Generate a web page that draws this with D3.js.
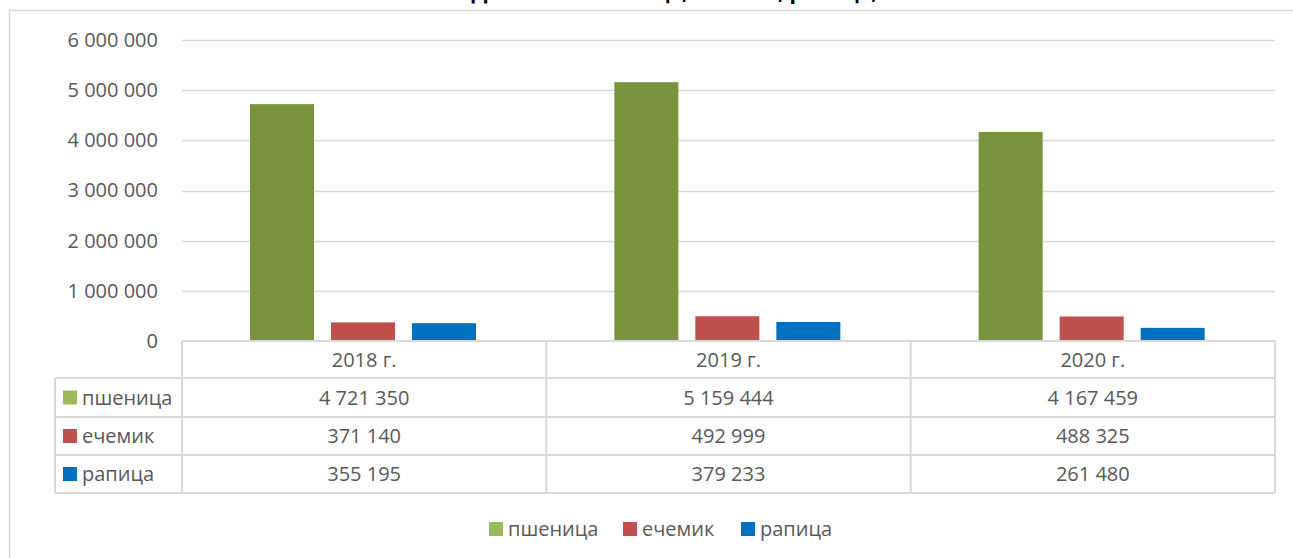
<!DOCTYPE html>
<html><head><meta charset="utf-8">
<script src="https://cdn.jsdelivr.net/npm/d3@7"></script>
<style>body{margin:0;background:#fff;} svg{display:block;font-family:"Open Sans",sans-serif;}</style>
</head><body>
<svg id="c" width="1293" height="558"></svg>
<script>
const title = "Добив на пшеница, ечемик, рапица, т";
const categories = ["2018 г.", "2019 г.", "2020 г."];
const seriesNames = ["пшеница", "ечемик", "рапица"];
const wheat = [4721350, 5159444, 4167459];
const barley = [371140, 492999, 488325];
const rapeseed = [355195, 379233, 261480];
const yTicks = [0, 1000000, 2000000, 3000000, 4000000, 5000000, 6000000];
const barColors = ["#77933c", "#c0504d", "#0070c0"];
const keyColors = ["#9bbb59", "#c0504d", "#0070c0"];

(function () {
const seriesValues = [wheat, barley, rapeseed];
const fmt = v => d3.format(",")(v).replace(/,/g, " ");

const svg = d3.select("#c");
const textCol = "#595959", lineCol = "#d9d9d9";
const pLeft = 182, pRight = 1275, pTop = 40, base = 341;

// chart frame
svg.append("line").attr("x1", 9.5).attr("x2", 9.5).attr("y1", 10).attr("y2", 558).attr("stroke", lineCol).attr("stroke-width", 1.5);
svg.append("line").attr("x1", 9.5).attr("x2", 1293).attr("y1", 10.5).attr("y2", 10.5).attr("stroke", lineCol).attr("stroke-width", 1.5);

// title (cut off at top, as in the source)
svg.append("text").attr("x", 683).attr("y", -1).attr("text-anchor", "middle")
  .attr("font-size", 21).attr("font-weight", "bold").attr("fill", "#000").text(title);

const y = d3.scaleLinear().domain([0, 6000000]).range([base, pTop]);
const x0 = d3.scaleBand().domain(categories).range([pLeft, pRight]);
const x1 = d3.scaleBand().domain(seriesNames).range([68, 294]).paddingInner(0.21);

// y axis labels
const yAxis = d3.axisLeft(y).tickValues(yTicks).tickFormat(fmt).tickSize(0).tickPadding(24);
const gy = svg.append("g").attr("transform", `translate(${pLeft},0)`).call(yAxis);
gy.select(".domain").remove();
gy.selectAll("text").attr("font-size", 20).attr("fill", textCol).attr("font-family", "Open Sans");
// gridlines
svg.append("g").selectAll("line").data(yTicks.filter(d => d > 0)).join("line")
  .attr("x1", pLeft).attr("x2", pRight).attr("y1", d => Math.round(y(d)) + 0.5).attr("y2", d => Math.round(y(d)) + 0.5)
  .attr("stroke", lineCol).attr("stroke-width", 1.5);

// bars
seriesNames.forEach((s, si) => {
  svg.append("g").selectAll("rect").data(categories).join("rect")
    .attr("x", (c) => x0(c) + x1(s))
    .attr("width", x1.bandwidth())
    .attr("y", (c, i) => y(seriesValues[si][i]))
    .attr("height", (c, i) => base - y(seriesValues[si][i]))
    .attr("fill", barColors[si]);
});

// data table
const rowY = [341, 378, 417, 455, 493];
const tbl = svg.append("g");
const hl = (a, b, yv) => tbl.append("line").attr("x1", a).attr("x2", b).attr("y1", yv).attr("y2", yv).attr("stroke", lineCol).attr("stroke-width", 2);
const vl = (xv, a, b) => tbl.append("line").attr("x1", xv).attr("x2", xv).attr("y1", a).attr("y2", b).attr("stroke", lineCol).attr("stroke-width", 2);
hl(pLeft, pRight, rowY[0]);
rowY.slice(1).forEach(r => hl(55, pRight, r));
vl(55, rowY[1], rowY[4]);
const colEdges = [pLeft, ...categories.map(c => x0(c) + x0.bandwidth())];
colEdges.forEach(e => vl(e, rowY[0], rowY[4]));

categories.forEach((c, i) => {
  tbl.append("text").attr("x", x0(c) + x0.bandwidth() / 2).attr("y", (rowY[0] + rowY[1]) / 2)
    .attr("dy", "0.35em").attr("text-anchor", "middle").attr("font-size", 20).attr("fill", textCol).text(c);
  seriesNames.forEach((s, si) => {
    tbl.append("text").attr("x", x0(c) + x0.bandwidth() / 2).attr("y", (rowY[si + 1] + rowY[si + 2]) / 2)
      .attr("dy", "0.35em").attr("text-anchor", "middle").attr("font-size", 20).attr("fill", textCol)
      .text(fmt(seriesValues[si][i]));
  });
});
seriesNames.forEach((s, si) => {
  const cy = (rowY[si + 1] + rowY[si + 2]) / 2;
  tbl.append("rect").attr("x", 63).attr("y", cy - 7).attr("width", 14).attr("height", 14).attr("fill", keyColors[si]);
  tbl.append("text").attr("x", 82).attr("y", cy).attr("dy", "0.35em").attr("font-size", 20).attr("fill", textCol).text(s);
});

// bottom legend
const legX = [489, 623, 741];
const leg = svg.append("g");
seriesNames.forEach((s, si) => {
  leg.append("rect").attr("x", legX[si]).attr("y", 522).attr("width", 14).attr("height", 14).attr("fill", keyColors[si]);
  leg.append("text").attr("x", legX[si] + 19).attr("y", 529).attr("dy", "0.35em").attr("font-size", 20).attr("fill", textCol).text(s);
});
})();
</script>
</body></html>
